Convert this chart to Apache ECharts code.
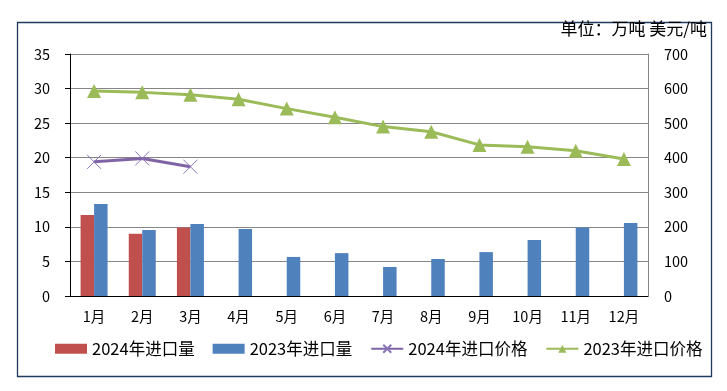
<!DOCTYPE html>
<html><head><meta charset="utf-8">
<script src="https://cdn.jsdelivr.net/npm/echarts@6/dist/echarts.min.js"></script>
<style>html,body{margin:0;padding:0;background:#fff}#c{width:727px;height:391px}</style>
</head><body><div id="c"></div>
<script>
const categories = ['1月','2月','3月','4月','5月','6月','7月','8月','9月','10月','11月','12月'];
const vol2024 = [11.7, 9.0, 9.9, null, null, null, null, null, null, null, null, null];
const vol2023 = [13.3, 9.55, 10.4, 9.7, 5.65, 6.2, 4.2, 5.35, 6.35, 8.1, 9.9, 10.55];
const price2024 = [388, 398, 374, null, null, null, null, null, null, null, null, null];
const price2023 = [593, 589, 582, 569, 542, 517, 490, 475, 437, 432, 420, 396];
const leftTicks = [0, 5, 10, 15, 20, 25, 30, 35];
const rightTicks = [0, 100, 200, 300, 400, 500, 600, 700];

const FONT = '"Noto Sans CJK SC", "Liberation Sans", sans-serif';
const chart = echarts.init(document.getElementById('c'), null, {renderer: 'canvas'});
chart.setOption({
  animation: false,
  backgroundColor: '#fff',
  textStyle: {fontFamily: FONT, color: '#000'},
  grid: {left: 70, right: 79, top: 54, bottom: 95},
  graphic: [
    {type: 'rect', shape: {x: 17.5, y: 22.5, width: 694, height: 354},
     style: {fill: 'none', stroke: '#1f3a5f', lineWidth: 1.3}, silent: true},
    {type: 'text', right: 20, top: 20,
     style: {text: '单位：万吨 美元/吨', font: '17px ' + FONT, fill: '#000'}}
  ],
  legend: {
    bottom: 29, left: 50, itemWidth: 32, itemHeight: 10, itemGap: 18,
    textStyle: {fontSize: 16.5, color: '#000', fontFamily: FONT},
    data: [
      {name: '2024年进口量', icon: 'rect'},
      {name: '2023年进口量', icon: 'rect'},
      {name: '2024年进口价格'},
      {name: '2023年进口价格'}
    ]
  },
  xAxis: {
    type: 'category', data: categories,
    axisLine: {lineStyle: {color: '#000', width: 1}},
    axisTick: {show: false},
    axisLabel: {color: '#000', fontSize: 14.5, margin: 13, fontFamily: FONT}
  },
  yAxis: [
    {type: 'value', min: 0, max: 35, interval: 5, position: 'left',
     axisLine: {show: true, lineStyle: {color: '#000'}},
     axisTick: {show: true, length: 5, lineStyle: {color: '#000'}},
     axisLabel: {color: '#000', fontSize: 14.5, margin: 20, fontFamily: FONT,
       formatter: v => leftTicks.includes(v) ? String(v) : ''},
     splitLine: {show: true, lineStyle: {color: '#868686', width: 1}}},
    {type: 'value', min: 0, max: 700, interval: 100, position: 'right',
     axisLine: {show: true, lineStyle: {color: '#868686'}},
     axisTick: {show: false},
     axisLabel: {color: '#000', fontSize: 14.5, margin: 16, fontFamily: FONT,
       formatter: v => rightTicks.includes(v) ? String(v) : ''},
     splitLine: {show: false}}
  ],
  series: [
    {name: '2024年进口量', type: 'bar', data: vol2024, barWidth: 13.5, barGap: '0%',
     itemStyle: {color: '#c0504d'}},
    {name: '2023年进口量', type: 'bar', data: vol2023, barWidth: 13.5, barGap: '0%',
     itemStyle: {color: '#4f81bd'}},
    {name: '2024年进口价格', type: 'line', yAxisIndex: 1, data: price2024,
     symbol: 'path://M0,0L10,10M10,0L0,10', symbolSize: 14, showSymbol: true,
     lineStyle: {color: '#7f63a6', width: 3},
     itemStyle: {color: '#7f63a6', borderColor: '#8a74b8', borderWidth: 1}},
    {name: '2023年进口价格', type: 'line', yAxisIndex: 1, data: price2023,
     symbol: 'triangle', symbolSize: 14,
     lineStyle: {color: '#9bbb59', width: 3},
     itemStyle: {color: '#9bbb59'}}
  ]
});
</script></body></html>
